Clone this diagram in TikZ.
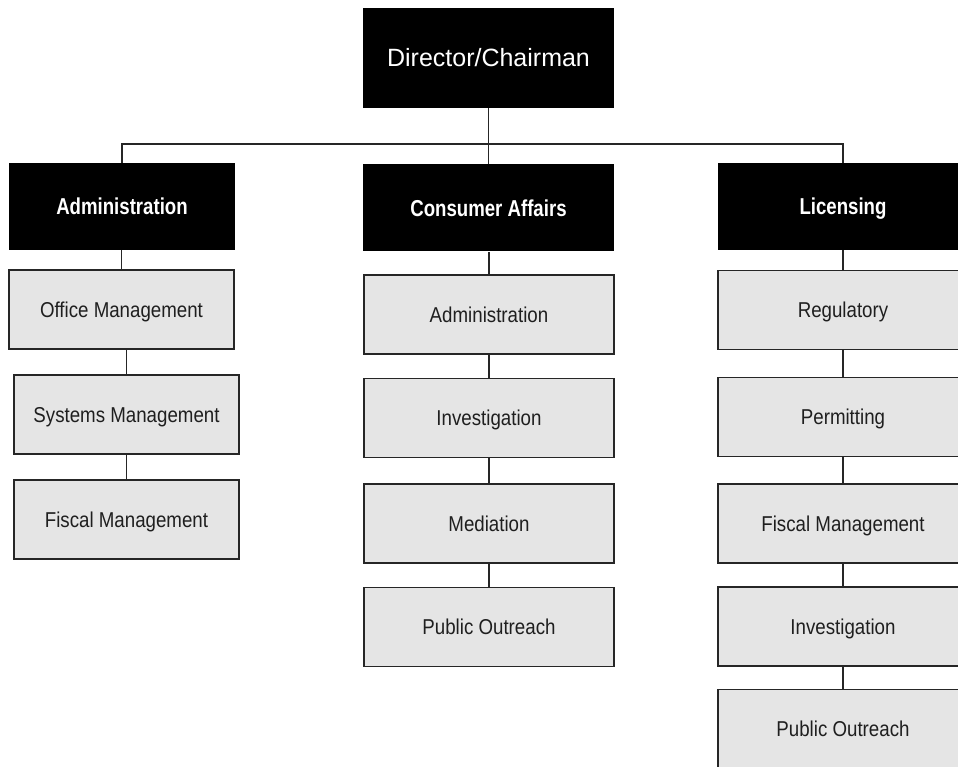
\documentclass[tikz,border=0pt]{standalone}
\usepackage{fontspec}
\setmainfont{Liberation Sans}[FakeStretch=0.87, BoldFeatures={FakeStretch=0.81}]
\newfontfamily\chieffont{Liberation Sans}
\begin{document}
\begin{tikzpicture}[x=1pt, y=-1pt,
        chief/.style={fill=black, text=white, minimum width=251pt, minimum height=100pt, inner sep=0pt,
            text height=17.5pt, text depth=0pt, font=\chieffont\fontsize{25}{30}\selectfont},
        dept/.style={fill=black, text=white, minimum height=87pt, inner sep=0pt,
            text height=16.5pt, text depth=0pt, font=\bfseries\fontsize{23}{28}\selectfont},
        unit/.style={draw=black!85, line width=1.6pt, fill=black!10, text=black!88, minimum height=79pt,
            inner sep=0pt, text height=15.5pt, text depth=0pt, font=\fontsize{21.5}{26}\selectfont},
        link/.style={draw=black!85, line width=1.3pt}]
        \useasboundingbox (0,0) rectangle (958,767) ;
        \node[chief] (chief) at (488.5,58) {Director/Chairman} ;
        \node[dept, minimum width=226pt] (admin) at (122,206.5) {Administration} ;
        \node[dept, minimum width=251pt] (consumer) at (488.5,208) {Consumer Affairs} ;
        \node[dept, minimum width=250pt] (licensing) at (843,206.5) {Licensing} ;
        \node[unit, minimum width=225pt] (office) at (121.5,309.5) {Office Management} ;
        \node[unit, minimum width=225pt] (systems) at (126.5,414.5) {Systems Management} ;
        \node[unit, minimum width=225pt] (adfiscal) at (126.5,519.5) {Fiscal Management} ;
        \node[unit, minimum width=250pt] (caadmin) at (489,314.5) {Administration} ;
        \node[unit, minimum width=250pt] (cainvest) at (489,418) {Investigation} ;
        \node[unit, minimum width=250pt] (camediate) at (489,523.5) {Mediation} ;
        \node[unit, minimum width=250pt] (caoutreach) at (489,627) {Public Outreach} ;
        \node[unit, minimum width=250pt] (regulatory) at (843,310) {Regulatory} ;
        \node[unit, minimum width=250pt] (permitting) at (843,417) {Permitting} ;
        \node[unit, minimum width=250pt] (lifiscal) at (843,523.5) {Fiscal Management} ;
        \node[unit, minimum width=250pt] (liinvest) at (843,626.5) {Investigation} ;
        \node[unit, minimum width=250pt] (lioutreach) at (843,729) {Public Outreach} ;
        \coordinate (bus) at (488.5,144) ;
        \draw[link] (chief.south) -- (bus) ;
        \draw[link] (admin.north) |- (licensing.north |- bus) -- (licensing.north) ;
        \draw[link] (consumer.north) -- (bus) ;
        \foreach \a/\b in {admin/office, office/systems, systems/adfiscal,
                consumer/caadmin, caadmin/cainvest, cainvest/camediate, camediate/caoutreach,
                licensing/regulatory, regulatory/permitting, permitting/lifiscal, lifiscal/liinvest, liinvest/lioutreach}
            \draw[link] (\b.north) -- (\b.north |- \a.south) ;
        \end{tikzpicture}
\end{document}
